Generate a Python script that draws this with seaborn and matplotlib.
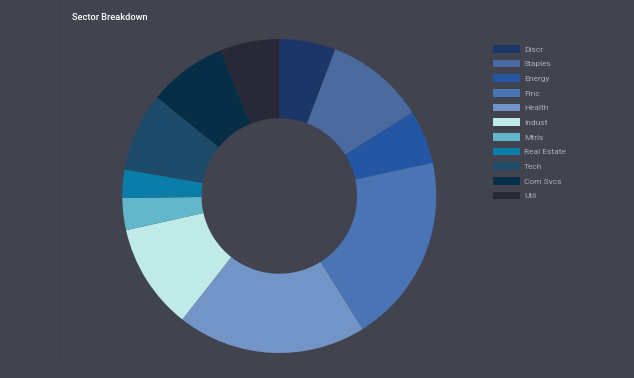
import matplotlib
matplotlib.use("Agg")
import matplotlib.pyplot as plt
import seaborn as sns
from matplotlib.patches import Rectangle

sectors = ["Discr", "Staples", "Energy", "Finc", "Health", "Indust",
           "Mtrls", "Real Estate", "Tech", "Com Svcs", "Util"]
weights = [5.8, 10.3, 5.5, 19.5, 19.5, 10.9, 3.3, 2.9, 8.1, 8.1, 6.1]
hexes = ["#1b3667", "#4a6aa0", "#2556a4", "#4a74b4", "#7394c7", "#c0eae8",
         "#62b7cb", "#0a7ea8", "#1d4b69", "#062e46", "#272a36"]

bg = "#41434e"
sns.set_theme(style="dark", rc={"figure.facecolor": bg, "axes.facecolor": bg})
plt.rcParams["font.family"] = ["Roboto", "DejaVu Sans"]
colors = sns.color_palette(hexes)

W, H = 634, 378
fig = plt.figure(figsize=(W / 100, H / 100), dpi=100)

# faint card outline
fig.patches.append(Rectangle((60 / W, 1 - 363 / H), 522 / W, 363 / H + 0.01,
                             transform=fig.transFigure, facecolor="none",
                             edgecolor="#3d3f4a", linewidth=0.7, zorder=-1))

cx, cy, r = 279.3, 196, 157
ax = fig.add_axes([(cx - r) / W, 1 - (cy + r) / H, 2 * r / W, 2 * r / H])
wedges, _ = ax.pie(weights, colors=colors, startangle=90, counterclock=False,
                   radius=1, wedgeprops=dict(width=0.505, linewidth=0))
ax.set_xlim(-1, 1)
ax.set_ylim(-1, 1)
ax.set_aspect("equal")
ax.axis("off")

fig.text(72 / W, 1 - 18 / H, "Sector Breakdown", color="white", fontsize=6.7,
         fontweight="medium", va="center", ha="left")

leg = fig.legend(wedges, sectors, loc="upper left",
                 bbox_to_anchor=(489 / W, 1 - 41 / H), frameon=False,
                 fontsize=6.0, handlelength=3.25, handleheight=1.0,
                 handletextpad=0.45, labelspacing=0.85, borderpad=0,
                 labelcolor="#a9aeb8")

fig.savefig("out.png", dpi=100, facecolor=bg)
